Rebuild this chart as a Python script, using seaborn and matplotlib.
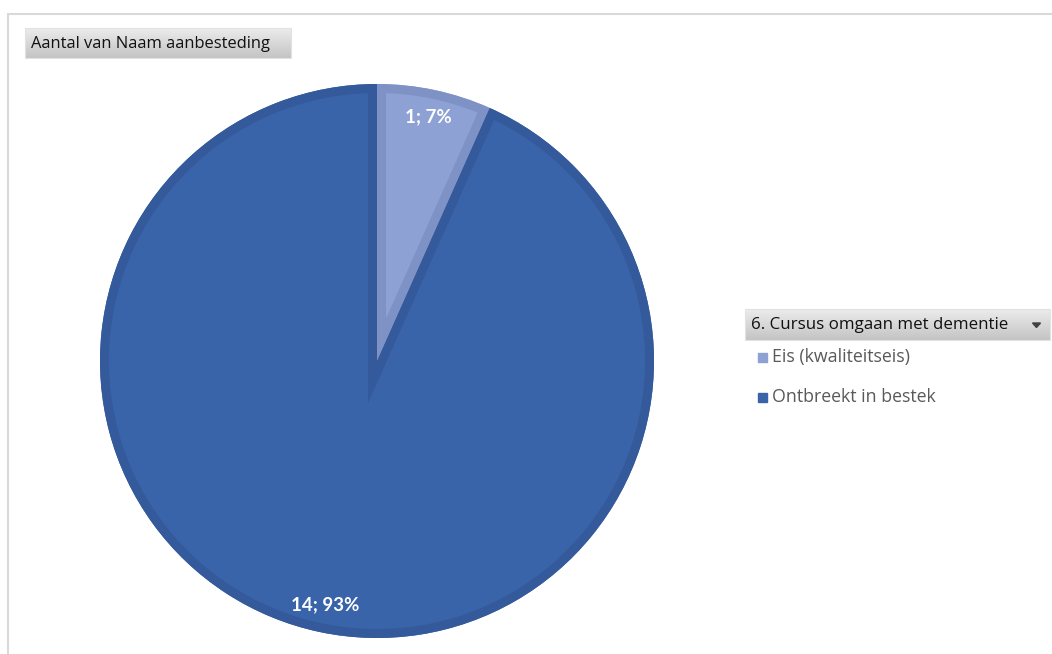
import numpy as np
import matplotlib
matplotlib.use("Agg")
import matplotlib.pyplot as plt
from matplotlib.patches import Rectangle
import seaborn as sns

categories = ["Eis (kwaliteitseis)", "Ontbreekt in bestek"]
counts = [1, 14]
legend_title = "6. Cursus omgaan met dementie"
value_title = "Aantal van Naam aanbesteding"

fill_colors = ["#8ea1d4", "#3a64aa"]
band_colors = ["#7f92c6", "#345a9b"]

sns.set_theme(style="white")
plt.rcParams["font.family"] = ["Open Sans", "DejaVu Sans"]

W, H = 1052, 654
fig = plt.figure(figsize=(W / 100, H / 100), dpi=100)
fig.patch.set_facecolor("white")


def px_axes(x0, y0, w, h):
    return fig.add_axes([x0 / W, 1 - (y0 + h) / H, w / W, h / H])


# chart frame (top and left edges)
frame = fig.add_axes([0, 0, 1, 1])
frame.set_xlim(0, W)
frame.set_ylim(H, 0)
frame.axis("off")
frame.plot([8, W], [14, 14], color="#d9d9d9", lw=1.5)
frame.plot([8, 8], [14, H], color="#d9d9d9", lw=1.5)


def gradient_button(x0, y0, w, h):
    grad = np.linspace(0, 1, 64).reshape(-1, 1)
    cmap = matplotlib.colors.LinearSegmentedColormap.from_list(
        "btn", ["#ececec", "#c4c4c4"])
    frame.imshow(grad, extent=(x0, x0 + w, y0 + h, y0), cmap=cmap,
                 aspect="auto", zorder=1)
    frame.add_patch(Rectangle((x0, y0), w, h, fill=False,
                              edgecolor="#e2e2e2", lw=0.8, zorder=2))


# field button for the value field
gradient_button(25, 28, 266, 30)
frame.text(31, 44, value_title, fontsize=11.9, color="#111111",
           va="center", ha="left", zorder=3)

# legend header button
gradient_button(745, 309, 305, 31)
frame.text(751, 325, legend_title, fontsize=12.2, color="#111111",
           va="center", ha="left", zorder=3)
frame.add_patch(plt.Polygon([[1032.5, 323], [1040.5, 323], [1036.5, 327.5]],
                            closed=True, color="#404040", zorder=3))

# legend entries
for i, (lab, col) in enumerate(zip(categories, fill_colors)):
    y = 357 + 40 * i
    frame.add_patch(Rectangle((758, y - 4.5), 9, 9, color=col, zorder=3))
    frame.text(772, y, lab, fontsize=12.8, color="#595959",
               va="center", ha="left", zorder=3)

# pie
cx, cy, r = 377, 361, 277
ax = px_axes(cx - r, cy - r, 2 * r, 2 * r)
total = sum(counts)


def fmt(pct):
    v = int(round(pct * total / 100))
    return f"{v}; {pct:.0f}%"


wedges, _, autotexts = ax.pie(
    counts, colors=fill_colors, startangle=90, counterclock=False,
    radius=1, autopct=fmt, pctdistance=0.9,
    wedgeprops=dict(linewidth=0),
    textprops=dict(color="white", fontsize=13.5, fontweight="bold",
                   family=["Lato", "DejaVu Sans"]))
ax.set_xlim(-1, 1)
ax.set_ylim(-1, 1)
ax.set_aspect("equal")
ax.axis("off")

# inner bevel band along each wedge outline
band_px = 9
for w, bc in zip(wedges, band_colors):
    outline = matplotlib.patches.Wedge(
        w.center, w.r, w.theta1, w.theta2, fill=False, edgecolor=bc,
        linewidth=2 * band_px * 0.72, transform=ax.transData,
        zorder=w.get_zorder() + 0.5)
    ax.add_patch(outline)
    outline.set_clip_path(w)

for t in autotexts:
    t.set_zorder(5)

fig.savefig("out.png", dpi=100, facecolor="white")
